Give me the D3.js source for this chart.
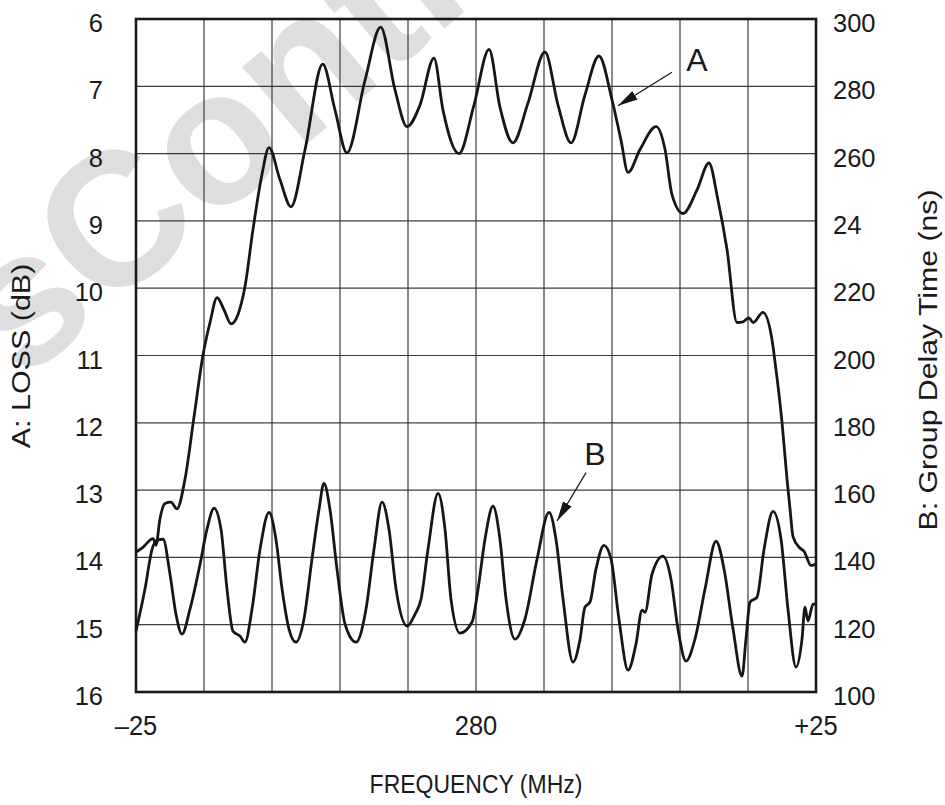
<!DOCTYPE html>
<html>
<head>
<meta charset="utf-8">
<script src="https://cdn.jsdelivr.net/npm/d3@7/dist/d3.min.js"></script>
<style>
    body { margin: 0; background: #fff; }
    text { font-family: "Liberation Sans", Arial, Helvetica, sans-serif; fill: #1a1a1a; }
</style>
</head>
<body>
<div id="chart"></div>
<script>
// Curve A: insertion loss (dB) vs frequency offset (MHz)
const freqA = [-25, -24.49, -23.75, -23.53, -23.24, -22.87, -22.43, -21.99, -21.40, -20.74,
    -20.07, -19.56, -19.04, -18.53, -18.01, -17.5, -16.99, -16.40, -15.74, -15.22,
    -14.41, -13.60, -12.57, -11.27, -10.37, -9.49, -8.16, -7.01, -5.96, -5.07,
    -4.12, -3.09, -2.43, -1.25, -0.15, 0.96, 1.76, 2.72, 3.82, 5.07,
    6.03, 6.99, 8.01, 9.04, 10.0, 10.66, 11.18, 12.06, 13.24, 13.90,
    14.41, 15.22, 16.25, 17.13, 17.79, 18.46, 19.19, 19.63, 20.07, 20.37,
    21.10, 21.76, 21.99, 22.50, 22.87, 23.09, 23.31, 23.82, 24.12, 24.63, 25];
const lossA = [13.92, 13.85, 13.72, 13.82, 13.43, 13.20, 13.18, 13.28, 12.84, 11.92,
    10.99, 10.51, 10.14, 10.32, 10.53, 10.39, 9.98, 9.13, 8.31, 7.91,
    8.39, 8.79, 7.94, 6.67, 7.35, 7.99, 6.91, 6.12, 7.05, 7.60,
    7.28, 6.58, 7.35, 8.00, 7.28, 6.45, 7.31, 7.84, 7.25, 6.49,
    7.28, 7.84, 7.13, 6.55, 7.20, 7.80, 8.28, 7.94, 7.60, 7.94,
    8.61, 8.89, 8.54, 8.14, 8.69, 9.43, 10.51, 10.50, 10.44, 10.51,
    10.36, 10.76, 11.10, 11.99, 12.84, 13.28, 13.69, 13.86, 13.91, 14.12, 14.10];

// Curve B: group delay time (ns) vs frequency offset (MHz)
const freqB = [-25, -24.34, -23.82, -23.46, -23.01, -22.5, -22.06, -21.62, -21.03, -20.29,
    -19.78, -19.26, -18.75, -18.31, -17.87, -17.35, -16.99, -16.47, -15.88, -15.22,
    -14.71, -14.26, -13.75, -13.24, -12.65, -12.06, -11.54, -11.18, -10.74, -10.22,
    -9.63, -8.82, -8.09, -7.50, -6.91, -6.40, -5.88, -5.07, -4.49, -4.04,
    -3.53, -2.79, -2.28, -1.84, -1.18, -0.29, 0.15, 0.66, 1.25, 1.76,
    2.21, 2.87, 3.60, 4.49, 5.37, 5.88, 6.40, 7.13, 7.65, 8.01,
    8.38, 8.82, 9.41, 9.93, 10.51, 11.18, 11.76, 12.21, 12.43, 12.94,
    13.75, 14.34, 14.85, 15.44, 16.10, 16.84, 17.65, 18.24, 18.90, 19.56,
    19.85, 20.15, 20.66, 21.18, 21.84, 22.43, 22.94, 23.53, 23.97, 24.19,
    24.41, 24.78, 25];
const delayB = [118.1, 130.6, 142.4, 145.1, 145.4, 135.0, 123.1, 117.2, 124.6, 138.0,
    148.4, 154.6, 148.4, 130.6, 118.1, 116.6, 114.8, 124.6, 142.4, 153.4,
    145.4, 130.6, 118.7, 114.8, 121.7, 139.5, 154.3, 162.0, 154.3, 136.5,
    120.2, 114.8, 124.6, 142.4, 156.4, 148.4, 130.6, 119.6, 123.1, 127.6,
    142.4, 159.0, 148.4, 127.6, 117.5, 120.8, 130.6, 145.4, 155.2, 145.4,
    127.6, 115.7, 121.7, 139.5, 153.4, 145.4, 127.6, 108.9, 115.7, 125.2,
    126.7, 136.5, 143.6, 139.5, 121.7, 106.5, 114.2, 124.3, 123.7, 135.0,
    140.4, 133.5, 118.7, 109.2, 115.7, 130.6, 144.8, 136.5, 118.7, 104.7,
    115.7, 126.7, 128.2, 142.4, 153.7, 145.4, 124.6, 107.4, 115.7, 125.2,
    121.1, 126.1, 126.1];

// Axis ticks and labels
const freqTicks = [-25, 0, 25];
const freqTickLabels = ["\u201325", "280", "+25"];
const freqGrid = d3.range(-25, 26, 5);
const lossTicks = [6, 7, 8, 9, 10, 11, 12, 13, 14, 15, 16];
const delayTicks = [300, 280, 260, 240, 220, 200, 180, 160, 140, 120, 100];
const delayTickLabels = ["300", "280", "260", "24", "220", "200", "180", "160", "140", "120", "100"];

// Annotation arrows (data coords on the loss axis)
const annotations = [
    { label: "A", lx: 16.25, ly: 6.77, x1: 14.41, y1: 6.79, x2: 10.44, y2: 7.29 },
    { label: "B", lx: 8.75, ly: 12.62, x1: 8.09, y1: 12.74, x2: 5.96, y2: 13.46 }
];

const width = 945;
const height = 805;
const margin = { top: 19, right: 129, bottom: 113, left: 136 };
const innerW = width - margin.left - margin.right;
const innerH = height - margin.top - margin.bottom;

const svg = d3.select("#chart")
    .append("svg")
    .attr("width", width)
    .attr("height", height);

// faint watermark behind everything (partly off the page, as in the scan)
svg.append("text")
    .attr("transform", "translate(22,383) rotate(-40)")
    .attr("font-size", "190px")
    .attr("font-weight", "bold")
    .style("fill", "#dedede")
    .text("sContr");

const g = svg.append("g")
    .attr("transform", `translate(${margin.left},${margin.top})`);

const x = d3.scaleLinear().domain([-25, 25]).range([0, innerW]);
const yLoss = d3.scaleLinear().domain([6, 16]).range([0, innerH]);
const yDelay = d3.scaleLinear().domain([100, 300]).range([innerH, 0]);

// Grid
g.selectAll(".vgrid")
    .data(freqGrid)
    .enter()
    .append("line")
    .attr("class", "vgrid")
    .attr("x1", d => x(d))
    .attr("x2", d => x(d))
    .attr("y1", 0)
    .attr("y2", innerH)
    .attr("stroke", "#3c3c3c")
    .attr("stroke-width", 1.2);

g.selectAll(".hgrid")
    .data(lossTicks)
    .enter()
    .append("line")
    .attr("class", "hgrid")
    .attr("x1", 0)
    .attr("x2", innerW)
    .attr("y1", d => yLoss(d))
    .attr("y2", d => yLoss(d))
    .attr("stroke", "#3c3c3c")
    .attr("stroke-width", 1.2);

// Frame
g.append("rect")
    .attr("width", innerW)
    .attr("height", innerH)
    .attr("fill", "none")
    .attr("stroke", "#1a1a1a")
    .attr("stroke-width", 2.6);

// Left axis labels (loss)
g.selectAll(".ltick")
    .data(lossTicks)
    .enter()
    .append("text")
    .attr("x", -33)
    .attr("y", d => yLoss(d) + 4)
    .attr("text-anchor", "end")
    .attr("dominant-baseline", "central")
    .attr("font-size", "25.5px")
    .text(d => d);

// Right axis labels (delay)
g.selectAll(".rtick")
    .data(delayTicks)
    .enter()
    .append("text")
    .attr("x", innerW + 17)
    .attr("y", d => yDelay(d) + 4)
    .attr("text-anchor", "start")
    .attr("dominant-baseline", "central")
    .attr("font-size", "25.5px")
    .text((d, i) => delayTickLabels[i]);

// Bottom labels
g.selectAll(".btick")
    .data(freqTicks)
    .enter()
    .append("text")
    .attr("transform", d => `translate(${x(d)},${innerH + 34}) scale(1,1.1)`)
    .attr("text-anchor", "middle")
    .attr("dominant-baseline", "central")
    .attr("font-size", "25.5px")
    .text((d, i) => freqTickLabels[i]);

// Axis titles (the scan's lettering is a little tall and narrow)
svg.append("text")
    .attr("transform", `translate(${margin.left + innerW / 2},784) scale(1,1.15)`)
    .attr("text-anchor", "middle")
    .attr("dominant-baseline", "central")
    .attr("font-size", "23px")
    .text("FREQUENCY (MHz)");

svg.append("text")
    .attr("transform", "translate(21,356) rotate(-90) scale(1.22,1)")
    .attr("text-anchor", "middle")
    .attr("dominant-baseline", "central")
    .attr("font-size", "25px")
    .text("A: LOSS (dB)");

svg.append("text")
    .attr("transform", "translate(928,360) rotate(-90) scale(1.21,1)")
    .attr("text-anchor", "middle")
    .attr("dominant-baseline", "central")
    .attr("font-size", "25px")
    .text("B: Group Delay Time (ns)");

// Curves
const dataA = d3.zip(freqA, lossA);
const dataB = d3.zip(freqB, delayB);

const lineA = d3.line()
    .x(d => x(d[0]))
    .y(d => yLoss(d[1]))
    .curve(d3.curveMonotoneX);

const lineB = d3.line()
    .x(d => x(d[0]))
    .y(d => yDelay(d[1]))
    .curve(d3.curveMonotoneX);

g.append("path")
    .datum(dataA)
    .attr("d", lineA)
    .attr("fill", "none")
    .attr("stroke", "#161616")
    .attr("stroke-width", 2.8)
    .attr("stroke-linejoin", "round");

g.append("path")
    .datum(dataB)
    .attr("d", lineB)
    .attr("fill", "none")
    .attr("stroke", "#161616")
    .attr("stroke-width", 2.8)
    .attr("stroke-linejoin", "round");

// Arrowhead marker
svg.append("defs")
    .append("marker")
    .attr("id", "arrow")
    .attr("viewBox", "0 0 20 10")
    .attr("refX", 20)
    .attr("refY", 5)
    .attr("markerWidth", 20)
    .attr("markerHeight", 10)
    .attr("markerUnits", "userSpaceOnUse")
    .attr("orient", "auto")
    .append("path")
    .attr("d", "M0,0 L20,5 L0,10 Z")
    .attr("fill", "#161616");

// Annotations
annotations.forEach(function(a) {
    g.append("line")
        .attr("x1", x(a.x1))
        .attr("y1", yLoss(a.y1))
        .attr("x2", x(a.x2))
        .attr("y2", yLoss(a.y2))
        .attr("stroke", "#161616")
        .attr("stroke-width", 1.2)
        .attr("marker-end", "url(#arrow)");

    g.append("text")
        .attr("x", x(a.lx))
        .attr("y", yLoss(a.ly))
        .attr("text-anchor", "middle")
        .attr("font-size", "32px")
        .text(a.label);
});
</script>
</body>
</html>
